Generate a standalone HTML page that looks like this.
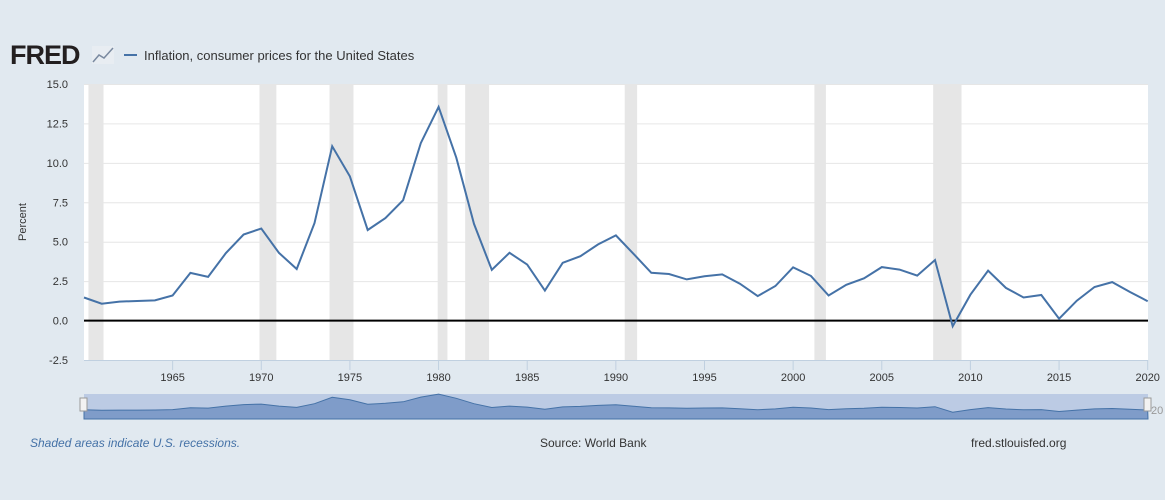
<!DOCTYPE html>
<html><head><meta charset="utf-8"><style>
body{margin:0;background:#e1e9f0;font-family:"Liberation Sans",sans-serif;}
svg{display:block}
</style></head><body>
<svg id="c" width="1165" height="500">
<rect width="1165" height="500" fill="#e1e9f0"/>
<g>
<text x="10" y="64" font-size="27" font-weight="bold" fill="#231f20" font-family="Liberation Sans" letter-spacing="-1">FRED</text>
<rect x="92" y="46" width="22" height="18" fill="#e8edf2"/>
<polyline points="93,62 99,55 104,58 113,48" fill="none" stroke="#7a8aa0" stroke-width="1.5"/>
</g>
<g>
<line x1="124" y1="55" x2="137" y2="55" stroke="#4572a7" stroke-width="2"/>
<text x="144" y="60" font-size="13" fill="#333">Inflation, consumer prices for the United States</text>
</g>
<rect x="84" y="84" width="1064" height="276" fill="#fff"/>
<g id="rec"></g><g id="grid"></g><g id="ylab"></g><g id="xlab"></g>
<line x1="84" y1="360.5" x2="1148" y2="360.5" stroke="#c0d0e0"/>
<path id="line" fill="none" stroke="#4572a7" stroke-width="2"/>
<text x="26" y="222" font-size="11" fill="#333" transform="rotate(-90 26 222)" text-anchor="middle">Percent</text>
<g>
<rect x="84" y="394" width="1064" height="25" fill="#bccbe4"/>
<path id="nav" fill="#7f9cc9" stroke="#4572a7" stroke-width="1"/>
<rect x="80" y="398" width="7" height="13" fill="#f2f2f2" stroke="#999"/>
<rect x="1144" y="398" width="7" height="13" fill="#f2f2f2" stroke="#999"/>
<text x="1151" y="414" font-size="11" fill="#999">20</text>
</g>
<text x="30" y="447" font-size="12" font-style="italic" fill="#4572a7">Shaded areas indicate U.S. recessions.</text>
<text x="540" y="447" font-size="12" fill="#333">Source: World Bank</text>
<text x="971" y="447" font-size="12" fill="#333">fred.stlouisfed.org</text>
</svg>
<script>
const years=[1960,1961,1962,1963,1964,1965,1966,1967,1968,1969,1970,1971,1972,1973,1974,1975,1976,1977,1978,1979,1980,1981,1982,1983,1984,1985,1986,1987,1988,1989,1990,1991,1992,1993,1994,1995,1996,1997,1998,1999,2000,2001,2002,2003,2004,2005,2006,2007,2008,2009,2010,2011,2012,2013,2014,2015,2016,2017,2018,2019,2020];
const values=[1.46,1.07,1.20,1.24,1.28,1.59,3.02,2.77,4.27,5.46,5.84,4.29,3.27,6.18,11.05,9.14,5.74,6.50,7.63,11.25,13.55,10.33,6.13,3.21,4.30,3.55,1.90,3.66,4.08,4.83,5.40,4.23,3.03,2.95,2.61,2.81,2.93,2.34,1.55,2.19,3.38,2.83,1.59,2.27,2.68,3.39,3.23,2.85,3.84,-0.36,1.64,3.16,2.07,1.46,1.62,0.12,1.26,2.13,2.44,1.81,1.23];
const yTicks=[15.0,12.5,10.0,7.5,5.0,2.5,0.0,-2.5];
const xTicks=[1965,1970,1975,1980,1985,1990,1995,2000,2005,2010,2015,2020];
const recessions=[[1960.25,1961.1],[1969.9,1970.85],[1973.85,1975.2],[1979.95,1980.5],[1981.5,1982.85],[1990.5,1991.2],[2001.2,2001.85],[2007.9,2009.5]];
const NS="http://www.w3.org/2000/svg";
const X=t=>84+(t-1960)*(1147.7-84)/60;
const Y=v=>84+(15-v)*276/17.5;
function mk(p,tag,a){const e=document.createElementNS(NS,tag);for(const k in a)e.setAttribute(k,a[k]);document.getElementById(p).appendChild(e);return e;}
recessions.forEach(r=>{const e=mk('rec','rect',{x:X(r[0]),y:84,width:X(r[1])-X(r[0]),height:276,fill:'#e6e6e6'});

});
yTicks.forEach(v=>{
 if(v!==0&&v!==-2.5){const g=mk('grid','line',{x1:84,x2:1148,y1:Y(v)+.5,y2:Y(v)+.5,stroke:'#e6e6e6'});
 
 }
 const t=mk('ylab','text',{x:68,y:Y(v)+4,'font-size':11,fill:'#333','text-anchor':'end'});t.textContent=v.toFixed(1);
 
 });
const z=mk('grid','line',{x1:84,x2:1148,y1:Y(0),y2:Y(0),stroke:'#000','stroke-width':2});


xTicks.forEach(y=>{mk('xlab','line',{x1:X(y),x2:X(y),y1:360,y2:370,stroke:'#c0d0e0'});
 const t=mk('xlab','text',{x:X(y),y:381,'font-size':11,fill:'#333','text-anchor':'middle'});t.textContent=y;
 
 });
document.getElementById('line').setAttribute('d',years.map((y,i)=>(i?'L':'M')+X(y).toFixed(1)+','+Y(values[i]).toFixed(1)).join(''));
const NY=v=>413-(v+1)*1.3;
document.getElementById('nav').setAttribute('d','M84,419'+years.map((y,i)=>'L'+X(y).toFixed(1)+','+NY(values[i]).toFixed(1)).join('')+'L1148,419Z');
</script>
</body></html>
